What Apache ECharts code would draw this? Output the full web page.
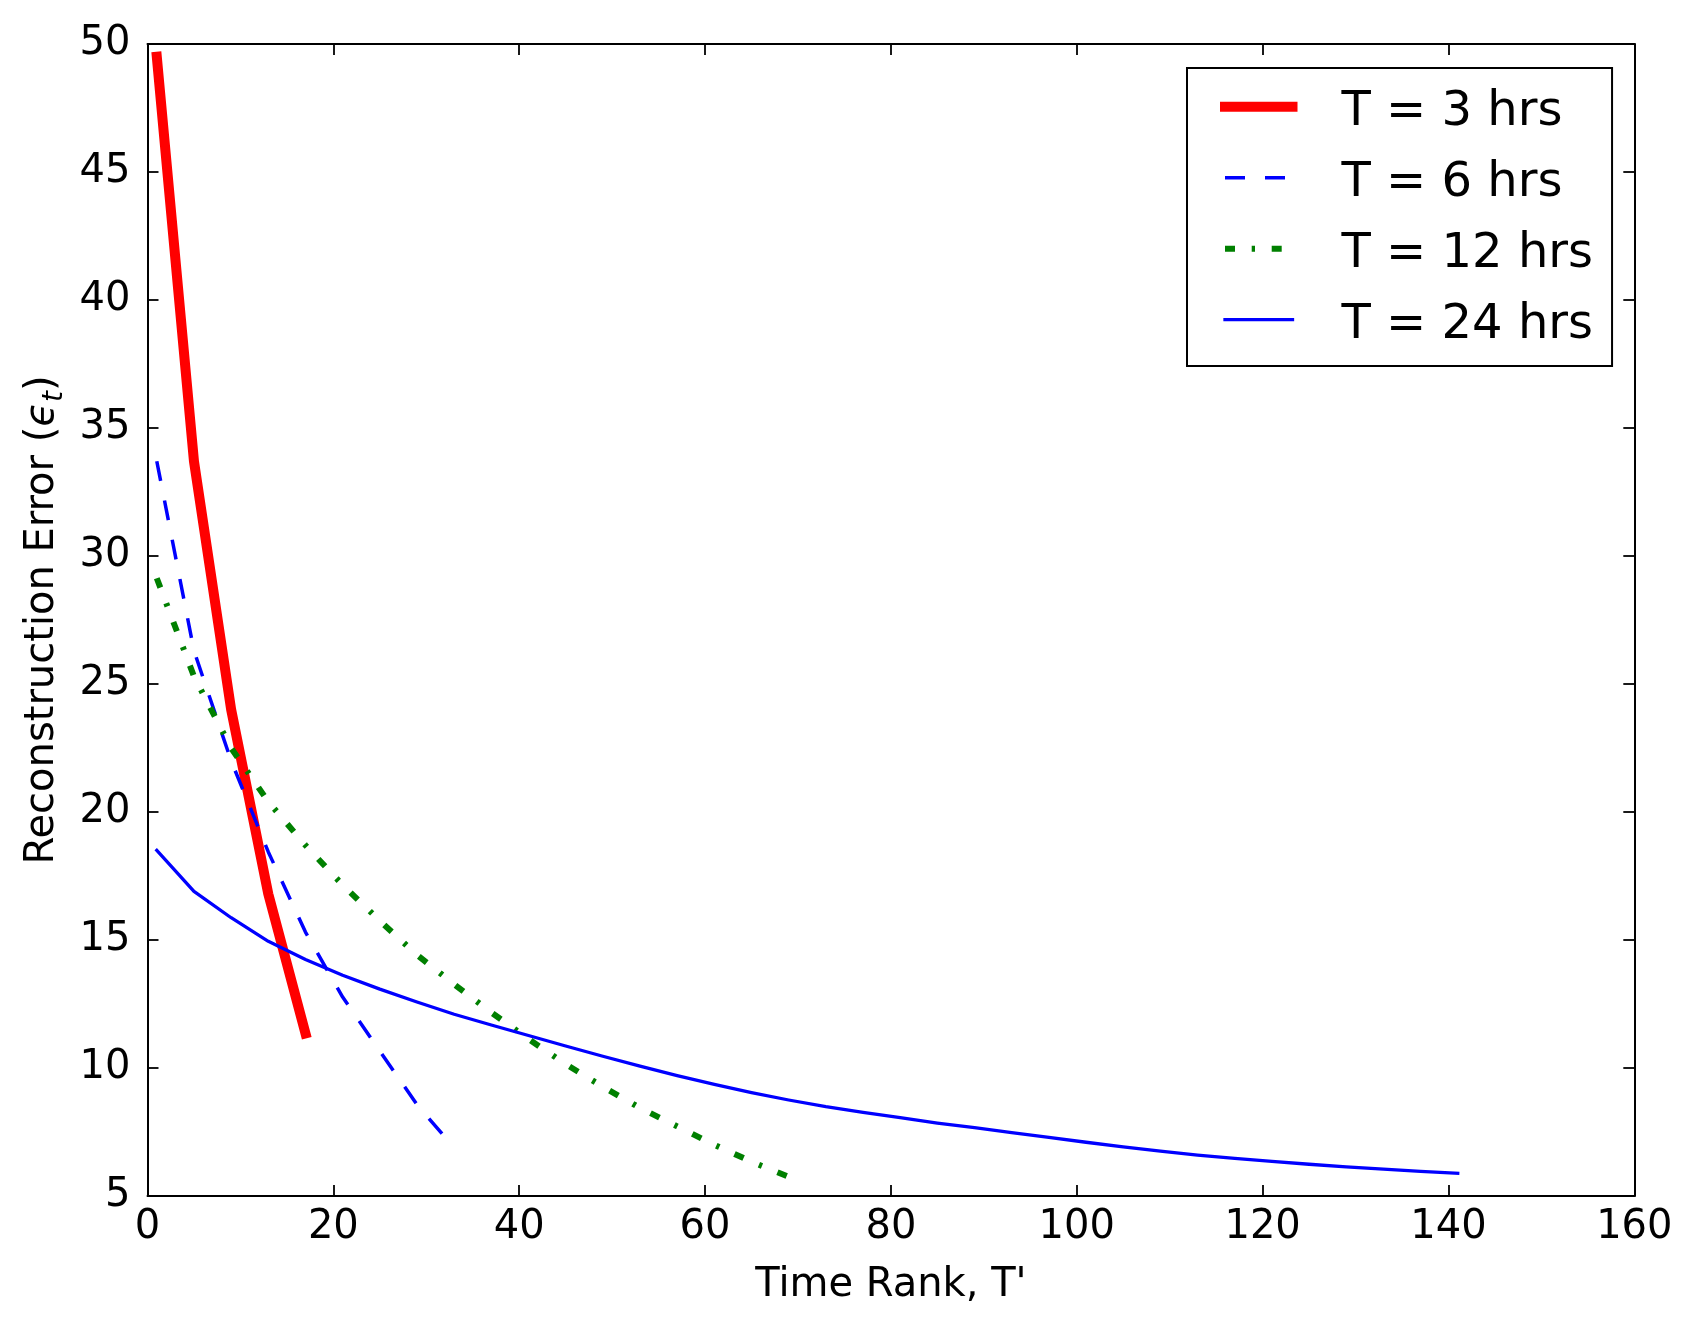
<!DOCTYPE html>
<html>
<head>
<meta charset="utf-8">
<script src="https://cdn.jsdelivr.net/npm/echarts@6/dist/echarts.min.js"></script>
<style>
html,body{margin:0;padding:0;background:#fff;}
#chart{width:1697px;height:1330px;}
</style>
</head>
<body>
<div id="chart"></div>
<script>
// ---- data ----
const seriesNames = ['T = 3 hrs', 'T = 6 hrs', 'T = 12 hrs', 'T = 24 hrs'];

const ranks3 = [1, 5, 9, 13, 17];
const err3 = [49.5, 33.7, 24.0, 16.8, 11.35];

const ranks6 = [1, 5, 9, 13, 17, 21, 25, 29, 33];
const err6 = [33.7, 26.3, 22.0, 18.44, 15.31, 12.77, 10.66, 8.57, 6.88];

const ranks12 = [1, 5, 9, 13, 17, 21, 25, 29, 33, 37, 41, 45, 49, 53, 57, 61, 65, 69];
const err12 = [29.13, 25.3, 22.5, 20.4, 18.7, 17.15, 15.75, 14.42, 13.27, 12.17, 11.13, 10.15, 9.27, 8.44, 7.72, 7.0, 6.34, 5.75];

const ranks24 = [1, 5, 9, 13, 17, 21, 25, 29, 33, 37, 41, 45, 49, 53, 57, 61, 65, 69,
                 73, 77, 81, 85, 89, 93, 97, 101, 105, 109, 113, 117, 121, 125, 129, 133, 137, 141];
const err24 = [18.5, 16.9, 15.87, 14.95, 14.24, 13.62, 13.08, 12.58, 12.1, 11.68, 11.27, 10.86, 10.46, 10.07, 9.70, 9.36, 9.04, 8.75,
               8.49, 8.27, 8.06, 7.85, 7.67, 7.48, 7.29, 7.10, 6.92, 6.75, 6.60, 6.47, 6.35, 6.24, 6.14, 6.05, 5.96, 5.89];

const xMin = 0, xMax = 160, xStep = 20;
const yMin = 5, yMax = 50, yStep = 5;

const xTitle = "Time Rank, T'";
const yTitle = '{n|Reconstruction Error (}{e|\u03f5}{s|t}{n|)}';

// ---- styles ----
const FONT = 'DejaVu Sans';
const styles = [
  {color: '#ff0000', width: 10, type: 'solid', cap: 'square'},
  {color: '#0000ff', width: 3.5, type: [20, 20], cap: 'butt'},
  {color: '#008000', width: 6, type: [10, 16.7, 3.3, 16.7], cap: 'butt'},
  {color: '#0000ff', width: 3.3, type: 'solid', cap: 'square'}
];
const allRanks = [ranks3, ranks6, ranks12, ranks24];
const allErr = [err3, err6, err12, err24];

function pairs(xs, ys) { return xs.map((x, i) => [x, ys[i]]); }

const axisLine = {show: true, onZero: false, lineStyle: {color: '#000', width: 2}};
const axisTick = {show: true, inside: true, length: 11, lineStyle: {color: '#000', width: 1.8}};

const chart = echarts.init(document.getElementById('chart'), null, {renderer: 'canvas'});
chart.setOption({
  animation: false,
  backgroundColor: '#fff',
  grid: {left: 147.5, right: 62.7, top: 44, bottom: 134, containLabel: false},
  xAxis: [
    {
      type: 'value', min: xMin, max: xMax, interval: xStep, position: 'bottom',
      axisLine: axisLine, axisTick: axisTick, splitLine: {show: false},
      axisLabel: {margin: 12, fontFamily: FONT, fontSize: 40, color: '#000'},
      name: xTitle, nameLocation: 'middle', nameGap: 70,
      nameTextStyle: {fontFamily: FONT, fontSize: 40, color: '#000'}
    },
    {
      type: 'value', min: xMin, max: xMax, interval: xStep, position: 'top',
      axisLine: axisLine, axisTick: axisTick, splitLine: {show: false},
      axisLabel: {show: false}
    }
  ],
  yAxis: [
    {
      type: 'value', min: yMin, max: yMax, interval: yStep, position: 'left',
      axisLine: axisLine, axisTick: axisTick, splitLine: {show: false},
      axisLabel: {margin: 17, fontFamily: FONT, fontSize: 40, color: '#000'},
      name: yTitle, nameLocation: 'middle', nameGap: 80, nameRotate: 90,
      nameTextStyle: {
        fontFamily: FONT, fontSize: 40, color: '#000',
        rich: {
          n: {fontFamily: FONT, fontSize: 40, lineHeight: 40, color: '#000', verticalAlign: 'top'},
          e: {fontFamily: FONT, fontSize: 40, lineHeight: 40, color: '#000', fontStyle: 'italic', verticalAlign: 'top'},
          s: {fontFamily: FONT, fontSize: 28, lineHeight: 28, color: '#000', fontStyle: 'italic', verticalAlign: 'top', padding: [18, 0, 0, 0]}
        }
      }
    },
    {
      type: 'value', min: yMin, max: yMax, interval: yStep, position: 'right',
      axisLine: axisLine, axisTick: axisTick, splitLine: {show: false},
      axisLabel: {show: false}
    }
  ],
  legend: {
    orient: 'vertical', left: 1187, top: 68,
    itemWidth: 67.5, itemHeight: 14, itemGap: 12,
    padding: [9.2, 19, 16.8, 33],
    borderColor: '#000', borderWidth: 2, backgroundColor: '#fff',
    selectedMode: false,
    formatter: '{a|{name}}',
    textStyle: {
      fontFamily: FONT, fontSize: 48, color: '#000', padding: [0, 0, 0, 44],
      rich: {a: {fontFamily: FONT, fontSize: 48, lineHeight: 48, color: '#000', padding: [11, 0, 0, 0]}}
    },
    data: seriesNames.map((n, i) => ({
      name: n,
      itemStyle: {color: 'rgba(0,0,0,0)', borderWidth: 0, opacity: 0},
      lineStyle: {color: styles[i].color, width: styles[i].width, type: styles[i].type, cap: styles[i].cap}
    }))
  },
  series: seriesNames.map((n, i) => ({
    name: n,
    type: 'line',
    xAxisIndex: 0, yAxisIndex: 0,
    symbol: 'none',
    data: pairs(allRanks[i], allErr[i]),
    lineStyle: {color: styles[i].color, width: styles[i].width, type: styles[i].type, cap: styles[i].cap, join: 'round'},
    itemStyle: {color: styles[i].color},
    emphasis: {disabled: true}
  }))
});
</script>
</body>
</html>
